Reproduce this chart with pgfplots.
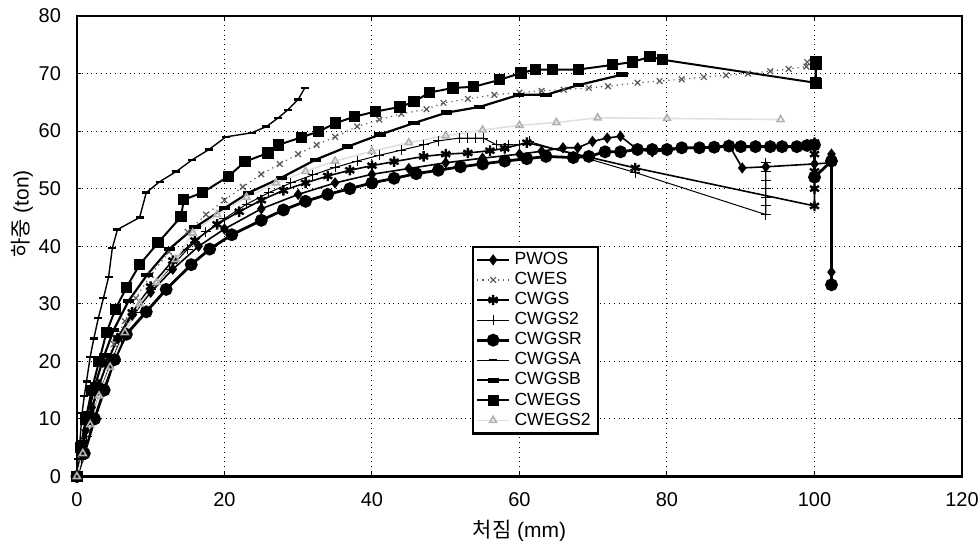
\documentclass[border=0pt]{standalone}
\usepackage{fontspec}
\setmainfont{Liberation Sans}
\newfontfamily\kr{Noto Sans CJK KR}
\usepackage{pgfplots}
\pgfplotsset{compat=1.18}

\begin{document}
\begin{tikzpicture}
\begin{axis}[
  name=main,
  scale only axis,
  width=443pt, height=230.5pt,
  xmin=0, xmax=120, ymin=0, ymax=80,
  xtick={0,20,...,120}, ytick={0,10,...,80},
  grid=major,
  grid style={black, dotted, line width=0.5pt},
  axis line style={line width=1.3pt},
  tick style={black, line width=0.5pt},
  major tick length=2pt,
  tick align=inside,
  ticklabel style={font=\fontsize{10}{11}\selectfont},
  /pgf/number format/assume math mode=true,
  xticklabel style={yshift=-4.5pt},
  yticklabel style={xshift=-4.5pt},
  xlabel={{\kr 처짐} (mm)},
  ylabel={{\kr 하중} (ton)},
  label style={font=\fontsize{10.5}{11}\selectfont},
  xlabel style={at={(axis description cs:0.5,-0.118)}, anchor=center},
  ylabel style={at={(axis description cs:-0.062,0.57)}, anchor=center},
  legend style={at={(0.446,0.501)}, anchor=north west, draw=black, line width=1.1pt,
    font=\fontsize{8.8}{9.5}\selectfont, row sep=0pt, inner sep=1.5pt,
    nodes={inner ysep=1.2pt, inner xsep=2pt}},
  legend cell align=left,
  legend image code/.code={\draw[mark repeat=2,mark phase=2,#1] plot coordinates {(0pt,0pt)(8pt,0pt)(16pt,0pt)};},
]
% PWOS
\addplot[black, line width=0.8pt, mark=diamond*, mark size=2.2pt] coordinates {
(0,0)(0.5,4)(1.2,8)(2,12)(3,16)(4.2,20)(5.5,24)(7.5,28)(10,32)(13,36)(16.5,40)(20,43)
(25,46.5)(30,49)(35,51)(40,52.5)(45,53.5)(50,54.5)(55,55.3)(60,56)(63,56.5)(65.9,57.1)
(67.9,57.1)(69.9,58.2)(71.9,58.8)(73.7,59.1)(76,56.8)(78,56.4)(80,56.6)(82,57)(84.4,57)
(86.4,57.3)(88.4,57.6)(90.2,53.6)(93.4,53.8)(100,54.3)(102.3,54.5)(102.3,56)(102.3,35.5)};
\addlegendentry{PWOS}
% CWES
\addplot[black!65, line width=0.6pt, dotted, mark=x, mark size=2pt, mark options={solid}] coordinates {
(0,0)(0.5,3)(1,6)(2,11)(3,16)(4,20)(5,23)(6.5,27)(8,31)(10,35)(12.5,39)(15,42.5)(17.5,45.5)
(20,48)(22.5,50.3)(25,52.5)(27.5,54.3)(30,56)(32.5,57.6)(35,59)(38,60.8)(41,62)(44,63)
(47.4,63.8)(49.7,64.9)(53,65.6)(56.6,66.3)(60,66.7)(63,67)(66,67.2)(69.4,67.5)(72,67.8)
(76,68.4)(79,68.7)(82,69)(85,69.4)(88,69.7)(91,70)(94,70.4)(96.5,70.8)(98.9,71.2)(99,72)};
\addlegendentry{CWES}
% CWGS
\addplot[black, line width=0.8pt, mark=asterisk, mark size=2.6pt, mark options={line width=1.2pt}] coordinates {
(0,0)(0.8,5)(1.7,10)(2.8,15)(4,19.5)(5.5,24)(7.5,28.5)(10,33)(13,37.5)(16,41)(19,43.8)
(22,46)(25,48)(28,49.7)(31,51)(34,52.2)(37,53.2)(40,54)(43,54.7)(47,55.6)(50,56)(53,56.2)
(56,56.6)(58,57)(61,58)(75.7,53.6)(100,47)(100,50)(100,53)(100,56)(100,58)};
\addlegendentry{CWGS}
% CWGS2
\addplot[black, line width=0.5pt, mark=+, mark size=2.5pt] coordinates {
(0,0)(0.6,3)(1.3,7)(2.2,11)(3.2,15)(4.5,19.5)(6,24)(8,28.5)(10,32.5)(12.5,36)(15,39.5)
(17.5,42.5)(20,44.8)(23,47.3)(26,49.3)(29,51)(32,52.4)(35,53.7)(38,54.8)(41,55.8)(44,56.7)
(47,57.6)(49,58.3)(51.9,58.8)(53,58.8)(54,58.8)(55.1,58.8)(56.9,57.6)(58.5,57.6)(60,57.6)
(61.3,58.2)(75.7,52.8)(93.4,45.5)(93.4,47)(93.4,48.5)(93.4,50)(93.4,51.5)(93.4,53)(93.4,54.5)};
\addlegendentry{CWGS2}
% CWGSR
\addplot[black, line width=1.4pt, mark=*, mark size=2.5pt] coordinates {
(0,0)(1,4)(2.4,10)(3.7,15)(5.1,20.3)(6.7,24.7)(9.4,28.6)(12.1,32.5)(15.5,36.8)(18,39.5)
(21,42)(25,44.5)(28,46.3)(31,47.8)(34,49)(37,50)(40,51)(43,51.8)(46,52.6)(49,53.2)(52,53.8)
(55,54.3)(58,54.8)(61,55.2)(63.6,55.6)(67.3,55.4)(69.4,55.6)(71.6,56.4)(73.7,56.4)(76,56.8)
(78,56.8)(80,56.8)(82,57.1)(84.4,57.1)(86.4,57.2)(88.4,57.4)(90,57.3)(92,57.3)(94,57.3)
(95.6,57.3)(97.6,57.3)(99,57.5)(100,57.6)(100,52)(102.3,54.8)(102.3,33.3)};
\addlegendentry{CWGSR}
% CWGSA
\addplot[black, line width=0.7pt, mark=-, mark size=2pt, mark options={line width=1.2pt}] coordinates {
(0,0)(0.2,3)(0.4,6)(0.7,11)(1,14)(1.3,16.5)(1.8,20.8)(2.3,24)(2.9,27.5)(3.6,31)(4.3,34.7)
(4.8,39.7)(5.5,42.9)(8.5,45)(9.4,49.3)(11.2,51.2)(13.5,53)(15.6,55)(17.9,56.8)(20.2,59)
(23.7,59.7)(25.7,60.8)(27.3,62.3)(28.6,63.7)(30,65.5)(30.9,67.5)};
\addlegendentry{CWGSA}
% CWGSB
\addplot[black, line width=1.1pt, mark=-, mark size=2.8pt, mark options={line width=2.2pt}] coordinates {
(0,0)(0.7,6)(1.5,11)(2.5,16)(3.7,21)(5,25.5)(7,30.5)(9.5,35)(12.5,39.5)(16,43.3)(20,46.6)
(23.3,49.3)(27.7,51.9)(32.3,55)(36.7,57.3)(41.1,59.4)(45.7,61.4)(50.1,63.2)(54.6,64.2)
(59.9,66.3)(63.6,66.3)(68,68)(73.9,69.8)};
\addlegendentry{CWGSB}
% CWEGS
\addplot[black, line width=1pt, mark=square*, mark size=2.3pt] coordinates {
(0,0)(0.5,5)(1.2,10)(2,15)(3,20)(4,25)(5.2,29)(6.7,32.8)(8.5,36.8)(11,40.6)(14.1,45.1)
(14.5,48.1)(17,49.3)(20.5,52.1)(22.8,54.7)(25.9,56.2)(27.3,57.6)(30.4,58.9)(32.7,59.9)
(35.1,61.4)(37.6,62.5)(40.5,63.4)(43.8,64.2)(45.7,65.1)(47.8,66.7)(51,67.5)(53.8,67.7)
(57.3,68.9)(60.2,70.1)(62.2,70.7)(64.5,70.7)(68,70.7)(72.6,71.5)(75.3,72)(77.7,72.9)
(79.4,72.4)(100.1,68.4)(100.2,72)(100.2,68.2)(100.2,71.5)};
\addlegendentry{CWEGS}
% CWEGS2
\addplot[black!12, line width=0.8pt, mark=triangle, mark size=2pt, mark options={black!30}] coordinates {
(0,0)(0.8,4)(1.8,9)(3,14)(4.5,19)(6.5,25)(8.5,30)(10.8,33.7)(13.4,37.7)(15.7,42.3)(19,45.5)
(23,48.5)(27,51)(31,53)(35,54.8)(40,56.5)(45,58)(50,59.2)(55,60.2)(60,61)(65,61.5)
(70.6,62.3)(80,62.2)(95.4,62)};
\addlegendentry{CWEGS2}
\end{axis}
\pgfresetboundingbox
\path[use as bounding box] ([xshift=-38.5pt,yshift=-32pt]main.south west) rectangle ([xshift=9pt,yshift=8pt]main.north east);
\end{tikzpicture}
\end{document}
